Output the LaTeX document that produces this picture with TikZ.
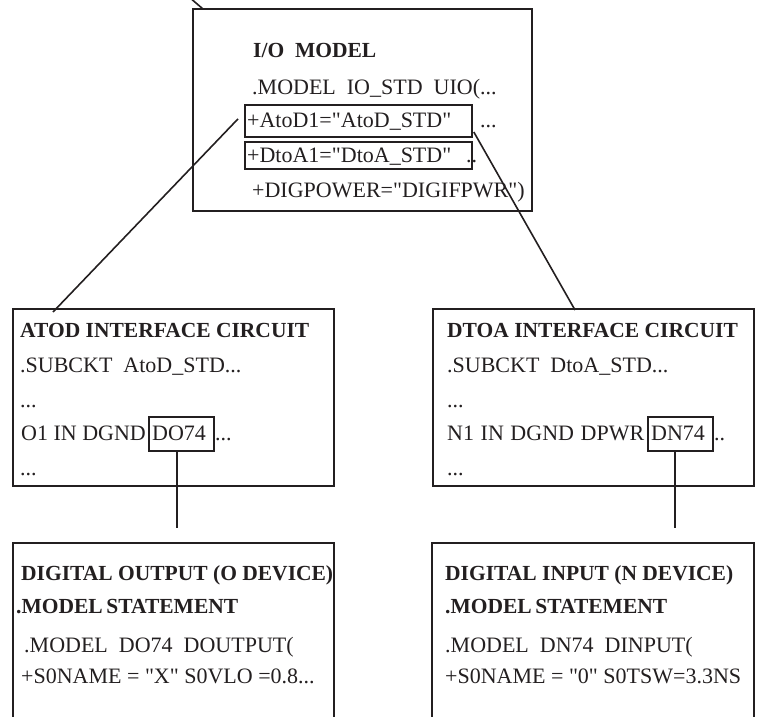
\documentclass[tikz,border=0pt]{standalone}
\usepackage{fontspec}
\newfontfamily\tnr{Liberation Serif}
\usetikzlibrary{calc}
\definecolor{ink}{RGB}{35,31,32}
\newcommand\ws{\hspace{0.3em}}
\begin{document}
\begin{tikzpicture}[x=1pt,y=-1pt,
  frame/.style={draw=ink,line width=2pt,inner sep=0pt,anchor=north west},
  selbox/.style={draw=ink,line width=1.8pt,inner sep=0pt,anchor=north west},
  txt/.style={anchor=base west,inner sep=0pt,text=ink,font=\tnr\fontsize{22}{26}\selectfont},
  hd/.style={anchor=base west,inner sep=0pt,text=ink,font=\tnr\fontsize{21.5}{26}\selectfont\bfseries},
  conn/.style={draw=ink,line width=1.6pt}]
\useasboundingbox (0,0) rectangle (758,717);
\clip (0,0) rectangle (758,717);
% frames
\node[frame,minimum width=339pt,minimum height=202pt] (io) at (192,8) {};
\node[frame,minimum width=321pt,minimum height=177pt] (atod) at (12,308) {};
\node[frame,minimum width=321pt,minimum height=177pt] (dtoa) at (432,308) {};
\node[frame,minimum width=321pt,minimum height=200pt] (dout) at (12,542) {};
\node[frame,minimum width=322pt,minimum height=200pt] (din) at (431,542) {};
% selection boxes
\node[selbox,minimum width=227pt,minimum height=32pt] (atodsel) at (244,104) {};
\node[selbox,minimum width=227pt,minimum height=27pt] (dtoasel) at (244,141) {};
\node[selbox,minimum width=65pt,minimum height=34pt] (do74) at (148,416) {};
\node[selbox,minimum width=65pt,minimum height=34pt] (dn74) at (647,416) {};
% I/O model texts
\node[hd] (t1) at (253,58) {I/O~ MODEL};
\node[txt] (t2) at (252,95) {.MODEL~ IO\_STD~ UIO(...};
\node[txt] (t3) at (247,128) {+AtoD1="AtoD\_STD"};
\node[txt] (t4) at (480,128) {...};
\node[txt] (t5) at (247,162) {+DtoA1="DtoA\_STD"};
\node[txt] (t6) at (466,162) {..};
\node[txt] (t7) at (252,197) {+DIGPOWER="DIGIFPWR")};
% ATOD texts
\node[hd] (a1) at (20,337) {ATOD INTERFACE CIRCUIT};
\node[txt] (a2) at (20,372) {.SUBCKT~ AtoD\_STD...};
\node[txt] (a3) at (20,407) {...};
\node[txt] (a4) at (21,440) {O1 IN DGND};
\node[txt] (a5) at (152,440) {DO74};
\node[txt] (a6) at (215,440) {...};
\node[txt] (a7) at (20,475) {...};
% DTOA texts
\node[hd] (d1) at (447,337) {DTOA INTERFACE CIRCUIT};
\node[txt] (d2) at (447,372) {.SUBCKT~ DtoA\_STD...};
\node[txt] (d3) at (447,407) {...};
\node[txt] (d4) at (447,440) {N1\ws IN\ws DGND\ws DPWR};
\node[txt] (d5) at (651,440) {DN74};
\node[txt] (d6) at (714,440) {..};
\node[txt] (d7) at (447,475) {...};
% digital output texts
\node[hd] (o1) at (21,580) {DIGITAL OUTPUT (O DEVICE)};
\node[hd] (o2) at (16,613) {.MODEL\,STATEMENT};
\node[txt] (o3) at (24,652) {.MODEL~ DO74~ DOUTPUT(};
\node[txt] (o4) at (21,683) {+S0NAME = "X" S0VLO =0.8...};
% digital input texts
\node[hd] (n1) at (445,580) {DIGITAL INPUT (N DEVICE)};
\node[hd] (n2) at (445,613) {.MODEL\,STATEMENT};
\node[txt] (n3) at (445,652) {.MODEL~ DN74~ DINPUT(};
\node[txt] (n4) at (445,683) {+S0NAME = "0" S0TSW=3.3NS};
% connectors
\coordinate (up) at (189,-3);
\coordinate (doend) at (177,528);
\coordinate (dnend) at (675,528);
\draw[conn] (up) -- ($(io.north west)+(11,1)$);
\draw[conn] ($(atodsel.west)+(-6,-2)$) -- ($(atod.north west)+(41,4)$);
\draw[conn] ($(dtoasel.north east)+(1,-9)$) -- ($(dtoa.north west)+(143,2)$);
\draw[conn] (doend |- do74.south) -- (doend);
\draw[conn] (dnend |- dn74.south) -- (dnend);
\end{tikzpicture}
\end{document}
